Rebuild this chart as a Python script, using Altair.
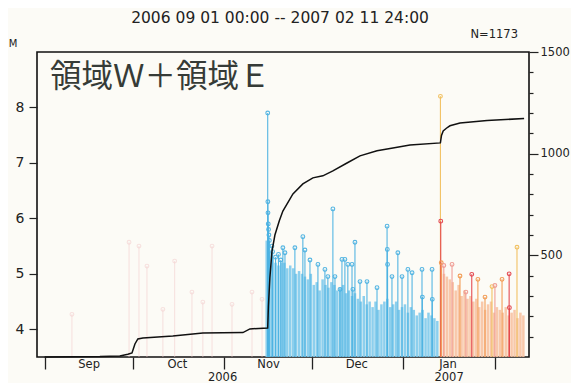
import altair as alt
import pandas as pd

# ---------------- data ----------------
# cumulative number of events (right axis)
cum_t = ["2006-09-01T00:00", "2006-09-19T19:00", "2006-09-26T14:00", "2006-09-29T07:00",
         "2006-09-30T17:00", "2006-10-01T17:00", "2006-10-02T17:00", "2006-10-04T10:00",
         "2006-10-14T14:00", "2006-10-24T19:00", "2006-11-07T10:00", "2006-11-09T19:00",
         "2006-11-15T20:00", "2006-11-15T20:14", "2006-11-16T02:00", "2006-11-16T14:00",
         "2006-11-17T07:00", "2006-11-18T07:00", "2006-11-19T19:00", "2006-11-21T00:00",
         "2006-11-24T10:00", "2006-11-27T19:00", "2006-12-01T05:00", "2006-12-04T14:00",
         "2006-12-08T00:00", "2006-12-12T19:00", "2006-12-17T05:00", "2006-12-23T00:00",
         "2006-12-28T10:00", "2007-01-03T05:00", "2007-01-13T13:00", "2007-01-13T13:23",
         "2007-01-13T22:00", "2007-01-14T12:00", "2007-01-15T14:00", "2007-01-16T19:00",
         "2007-01-20T05:00", "2007-01-29T10:00", "2007-02-11T00:00"]
cum_n = [0, 2, 5, 14, 20, 64, 89, 93, 103, 118, 120, 138, 143, 144, 250, 390, 520, 600,
         670, 718, 802, 851, 881, 891, 915, 954, 989, 1014, 1028, 1043, 1053, 1054, 1090,
         1112, 1125, 1137, 1151, 1163, 1173]

# individual events with a circle on top (left axis, magnitude)
ev_t = ["2006-09-10T07:00", "2006-09-29T17:00", "2006-10-03T02:00", "2006-10-05T19:00",
        "2006-10-11T05:00", "2006-10-15T05:00", "2006-10-21T02:00", "2006-10-24T19:00",
        "2006-10-27T22:00", "2006-11-03T17:00", "2006-11-10T12:00", "2006-11-13T22:00",
        "2006-11-15T20:14", "2006-11-15T21:30", "2006-11-15T22:30", "2006-11-16T00:30",
        "2006-11-16T03:00", "2006-11-16T06:00", "2006-11-16T10:00", "2006-11-17T07:00",
        "2006-11-17T12:00", "2006-11-18T12:00", "2006-11-19T12:00", "2006-11-20T07:00",
        "2006-11-21T00:00", "2006-11-21T17:00", "2006-11-25T02:00", "2006-11-27T19:00",
        "2006-11-28T12:00", "2006-11-30T05:00", "2006-12-02T22:00", "2006-12-05T07:00",
        "2006-12-06T07:00", "2006-12-08T00:00", "2006-12-08T17:00", "2006-12-10T10:00",
        "2006-12-11T02:00", "2006-12-12T02:00", "2006-12-13T02:00", "2006-12-14T12:00",
        "2006-12-14T19:00", "2006-12-15T12:00", "2006-12-17T05:00", "2006-12-19T14:00",
        "2006-12-23T00:00", "2006-12-26T10:00", "2006-12-26T12:00", "2006-12-26T14:00",
        "2006-12-28T02:00", "2006-12-30T02:00", "2006-12-31T12:00", "2007-01-02T12:00",
        "2007-01-03T22:00", "2007-01-07T07:00", "2007-01-07T10:00", "2007-01-10T17:00",
        "2007-01-10T19:00",
        "2007-01-13T13:23", "2007-01-13T16:00", "2007-01-13T20:00", "2007-01-14T17:00",
        "2007-01-17T12:00", "2007-01-20T05:00", "2007-01-22T05:00", "2007-01-24T05:00",
        "2007-01-26T07:00", "2007-01-28T17:00", "2007-01-31T02:00", "2007-02-01T02:00",
        "2007-02-03T12:00", "2007-02-05T22:00", "2007-02-06T00:00", "2007-02-08T14:00"]
ev_m = [4.27, 5.57, 5.50, 5.14, 4.36, 5.23, 4.67, 4.49, 5.50, 4.45, 4.67, 4.54,
        7.9, 6.3, 6.1, 5.9, 5.8, 5.7, 5.6, 5.5, 5.4, 5.3, 5.35, 5.25,
        5.47, 5.38, 5.47, 5.67, 5.43, 5.25, 5.17, 5.08, 4.95, 6.17, 4.95, 4.72,
        5.26, 5.26, 5.17, 5.17, 4.72, 5.57, 4.86, 4.86, 4.75, 5.86, 5.44, 5.17,
        4.95, 5.38, 4.95, 5.08, 5.02, 5.08, 4.58, 5.08, 4.54,
        8.2, 5.95, 5.2, 5.15, 5.17, 4.96, 4.67, 4.99, 4.9, 4.58, 4.77, 4.79,
        4.9, 5.0, 4.39, 5.48]
ev_g = ["early"] * 12 + ["blue"] * 45 + [
        "yellow", "red", "orange", "pink", "pink", "orange", "pink", "red",
        "orange", "orange", "yellow", "pink", "orange", "red", "red", "yellow"]

# upper edge of the dense swarm of small shocks, one value per day
blue_level = [5.6, 5.4, 5.3, 5.2, 5.15, 5.2, 5.2, 5.1, 5.15, 5.1, 5.0, 5.05, 5.0, 4.95,
              4.9, 5.0,
              4.8, 4.85, 4.7, 4.9, 4.8, 4.75, 4.85, 4.8, 4.7, 4.75, 4.8, 4.65, 4.7, 4.6,
              4.65, 4.55, 4.5, 4.6, 4.45, 4.5, 4.4, 4.5, 4.35, 4.45, 4.5, 4.55, 4.4, 4.45,
              4.5, 4.35, 4.4,
              4.45, 4.3, 4.4, 4.35, 4.25, 4.3, 4.35, 4.2, 4.3, 4.25, 4.2, 4.15]
orange_level = [5.2, 5.0, 4.95, 4.9, 4.85, 4.7, 4.8, 4.6, 4.7, 4.55, 4.6, 4.5, 4.55, 4.4,
                4.5, 4.35, 4.45, 4.5, 4.3, 4.4, 4.35, 4.3, 4.4, 4.25, 4.3, 4.35, 4.2,
                4.3, 4.25]

month_ticks = [(2006, 9), (2006, 10), (2006, 11), (2006, 12), (2007, 1), (2007, 2)]
year_t = ["2006-10-31T12:00", "2007-01-16T12:00"]
year_lab = ["2006", "2007"]

# ---------------- frames ----------------
cum_df = pd.DataFrame({"t": cum_t, "n": cum_n})
ev_df = pd.DataFrame({"t": ev_t, "m": ev_m, "g": ev_g})
blue_df = pd.DataFrame({"t": pd.date_range("2006-11-15T12:00", periods=len(blue_level), freq="D").strftime("%Y-%m-%dT%H:%M"),
                        "m": blue_level, "g": "blue_swarm"})
orange_df = pd.DataFrame({"t": pd.date_range("2007-01-13T18:00", periods=len(orange_level), freq="D").strftime("%Y-%m-%dT%H:%M"),
                          "m": orange_level, "g": "orange_swarm"})
swarm_df = pd.concat([blue_df, orange_df], ignore_index=True)
year_df = pd.DataFrame({"t": year_t, "lab": year_lab})

W, H = 492, 305
FONT = "DejaVu Sans"

xscale = alt.Scale(domain=[alt.DateTime(year=2006, month=8, date=29, hours=10),
                           alt.DateTime(year=2007, month=2, date=12, hours=16)])
xaxis = alt.Axis(values=[alt.DateTime(year=y, month=m, date=1) for y, m in month_ticks],
                 labelExpr="month(datum.value) == 1 ? '' : timeFormat(datum.value, '%b')",
                 labelOffset=44, tickSize=12, labelPadding=-11, labelFontSize=11.5,
                 labelFont=FONT, labelColor="#222", tickColor="#222", tickWidth=1.3,
                 domain=False, grid=False, title=None)
X = alt.X("t:T", scale=xscale, axis=xaxis)

mscale = alt.Scale(domain=[3.5, 9.0], nice=False, zero=False)
maxis = alt.Axis(values=[4, 5, 6, 7, 8], tickSize=8, labelPadding=5, labelFontSize=14,
                 labelFont=FONT, labelColor="#222", tickColor="#222", tickWidth=1.2,
                 domain=False, grid=False, title=None)
Ym = alt.Y("m:Q", scale=mscale, axis=maxis)

cdom = ["early", "blue", "blue_swarm", "orange_swarm", "orange", "red", "pink", "yellow"]
crng = ["#f3cccc", "#4cb2e2", "#80caec", "#f7c2a2", "#f2994f", "#e3434b", "#ef9a92", "#f1bf5c"]
C = alt.Color("g:N", scale=alt.Scale(domain=cdom, range=crng), legend=None)
OP = alt.condition("datum.g === 'early'", alt.value(0.55), alt.value(0.95))

swarm = alt.Chart(swarm_df).mark_rule(strokeWidth=2.5, opacity=0.9).encode(
    x=X, y=Ym, y2=alt.datum(3.5), color=C)
stems = alt.Chart(ev_df).mark_rule(strokeWidth=1.1).encode(
    x=X, y=Ym, y2=alt.datum(3.5), color=C, opacity=OP)
tops = alt.Chart(ev_df).mark_point(shape="circle", filled=False, size=14, strokeWidth=1.1).encode(
    x=X, y=Ym, color=C, opacity=OP)
years = alt.Chart(year_df).mark_text(fontSize=11.5, font=FONT, color="#222", baseline="middle").encode(
    x=X, y=alt.value(H + 20.5), text="lab:N")

label = alt.Chart(pd.DataFrame({"s": ["領域Ｗ＋領域Ｅ"]})).mark_text(
    align="left", baseline="middle", fontSize=31.5, font="Noto Sans CJK JP", color="#363b37"
).encode(x=alt.value(13), y=alt.value(26), text="s:N")
title = alt.Chart(pd.DataFrame({"s": ["2006 09 01 00:00  --  2007 02 11 24:00"]})).mark_text(
    align="center", baseline="middle", fontSize=15.5, font=FONT, color="#222"
).encode(x=alt.value(W / 2 - 3), y=alt.value(-34), text="s:N")
ntext = alt.Chart(pd.DataFrame({"s": ["N=1173"]})).mark_text(
    align="right", baseline="middle", fontSize=11.5, font=FONT, color="#222"
).encode(x=alt.value(481), y=alt.value(-17), text="s:N")
mtext = alt.Chart(pd.DataFrame({"s": ["M"]})).mark_text(
    align="center", baseline="middle", fontSize=10, font=FONT, color="#222"
).encode(x=alt.value(-24), y=alt.value(-8), text="s:N")

mag_layer = alt.layer(swarm, stems, tops, years, label, title, ntext, mtext)

raxis = alt.Axis(orient="right", values=list(range(100, 1600, 100)), format="d",
                 labelExpr="datum.value % 500 === 0 ? datum.label : ''",
                 tickSize={"condition": {"test": "datum.value % 500 === 0", "value": 9}, "value": 4},
                 labelPadding=2, labelFontSize=11.5, labelFont=FONT, labelColor="#222",
                 tickColor="#222", tickWidth=1.2, domain=False, grid=False, title=None)
line = alt.Chart(cum_df).mark_line(color="#111", strokeWidth=1.5).encode(
    x=X, y=alt.Y("n:Q", scale=alt.Scale(domain=[0, 1500], nice=False), axis=raxis))

chart = alt.layer(mag_layer, line).resolve_scale(y="independent").properties(
    width=W, height=H,
    autosize=alt.AutoSizeParams(type="none"),
    padding={"left": 29, "top": 44, "right": 42, "bottom": 26},
    background="#fcfbf6",
).configure_view(stroke="#111", strokeWidth=1.6)

chart.save("out.html", embed_options={"renderer": "svg", "actions": False})
